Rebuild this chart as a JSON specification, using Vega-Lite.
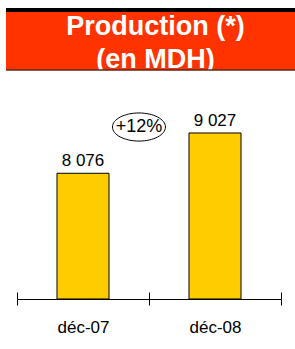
{
  "$schema": "https://vega.github.io/schema/vega-lite/v6.json",
  "width": 289,
  "height": 339,
  "autosize": "none",
  "padding": {"left": 6, "top": 10, "right": 0, "bottom": 0},
  "background": "white",
  "config": {
    "view": {"stroke": null},
    "font": "Liberation Sans",
    "axis": {"grid": false},
    "locale": {"number": {"decimal": ",", "thousands": " ", "grouping": [3], "currency": ["", " €"]}}
  },
  "title": {
    "text": "Activité",
    "anchor": "start",
    "fontSize": 27,
    "font": "Liberation Sans",
    "fontWeight": "bold",
    "color": "#000000",
    "baseline": "alphabetic",
    "offset": 5
  },
  "datasets": {
    "bars": [
      {"period": "déc-07", "value": 8076},
      {"period": "déc-08", "value": 9027}
    ],
    "banner": [{"text": "Production (*)|(en MDH)"}],
    "note": [{"period": "déc-07", "text": "+12%"}]
  },
  "layer": [
    {
      "data": {"name": "banner"},
      "mark": {"type": "rect", "fill": "#FF3300"},
      "encoding": {"y": {"datum": 10514, "axis": null}, "y2": {"datum": 11929}}
    },
    {
      "data": {"name": "banner"},
      "mark": {"type": "text", "lineBreak": "|", "lineHeight": 33, "fontSize": 27, "fontWeight": "bold", "color": "#FFFFFF", "baseline": "alphabetic", "align": "center", "dx": 5},
      "encoding": {"y": {"datum": 11339, "axis": null}, "text": {"field": "text"}}
    },
    {
      "data": {"name": "banner"},
      "mark": {"type": "rect", "fill": "#FFFFFF"},
      "encoding": {"y": {"datum": 3930, "axis": null}, "y2": {"datum": 10514}}
    },
    {
      "data": {"name": "banner"},
      "mark": {"type": "rule", "color": "#5A2A1A", "strokeWidth": 1.5},
      "encoding": {"y": {"datum": 10514, "axis": null}}
    },
    {
      "data": {"name": "banner"},
      "mark": {"type": "rule", "color": "#000000", "strokeWidth": 4},
      "encoding": {"y": {"datum": 11929, "axis": null}}
    },
    {
      "data": {"name": "bars"},
      "mark": {"type": "bar", "width": {"band": 0.394}, "fill": "#FFCC00", "stroke": "#000000", "strokeWidth": 1},
      "encoding": {
        "x": {
          "field": "period", "type": "nominal",
          "scale": {"range": [11, 275], "paddingInner": 0, "paddingOuter": 0},
          "axis": {"orient": "bottom", "offset": -50, "title": null, "grid": false, "domainColor": "#000000", "domainWidth": 1, "tickColor": "#000000", "tickWidth": 1, "tickSize": 6, "tickBand": "extent", "labelAngle": 0, "labelFontSize": 17, "labelColor": "#000000", "labelPadding": 14, "zindex": 1}
        },
        "y": {
          "field": "value", "type": "quantitative",
          "scale": {"domain": [3930, 11929], "nice": false, "zero": false},
          "axis": {"orient": "left", "title": null, "grid": false, "ticks": false, "labels": false, "domainColor": "#000000", "domainWidth": 4, "zindex": 1}
        },
        "y2": {"datum": 5110}
      }
    },
    {
      "data": {"name": "bars"},
      "mark": {"type": "text", "fontSize": 17, "color": "#000000", "baseline": "alphabetic", "dy": -7},
      "encoding": {
        "x": {
          "field": "period", "type": "nominal",
          "axis": {"orient": "bottom", "offset": -50, "title": null, "grid": false, "domain": false, "labels": false, "tickColor": "#000000", "tickWidth": 1, "tickSize": -7, "tickBand": "extent", "zindex": 1}
        },
        "y": {"field": "value", "type": "quantitative", "axis": null},
        "text": {"field": "value", "type": "quantitative", "format": ",.0f"}
      }
    },
    {
      "data": {"name": "note"},
      "mark": {"type": "point", "shape": "M -1 0 A 1 0.53 0 1 1 1 0 A 1 0.53 0 1 1 -1 0 Z", "size": 2809, "filled": false, "stroke": "#000000", "strokeWidth": 1, "opacity": 1},
      "encoding": {
        "x": {"field": "period", "type": "nominal", "bandPosition": 0.924, "axis": null},
        "y": {"datum": 9168, "axis": null}
      }
    },
    {
      "data": {"name": "note"},
      "mark": {"type": "text", "fontSize": 18, "color": "#000000", "baseline": "middle"},
      "encoding": {
        "x": {"field": "period", "type": "nominal", "bandPosition": 0.924, "axis": null},
        "y": {"datum": 9168, "axis": null},
        "text": {"field": "text"}
      }
    }
  ],
  "resolve": {"axis": {"x": "independent"}}
}
